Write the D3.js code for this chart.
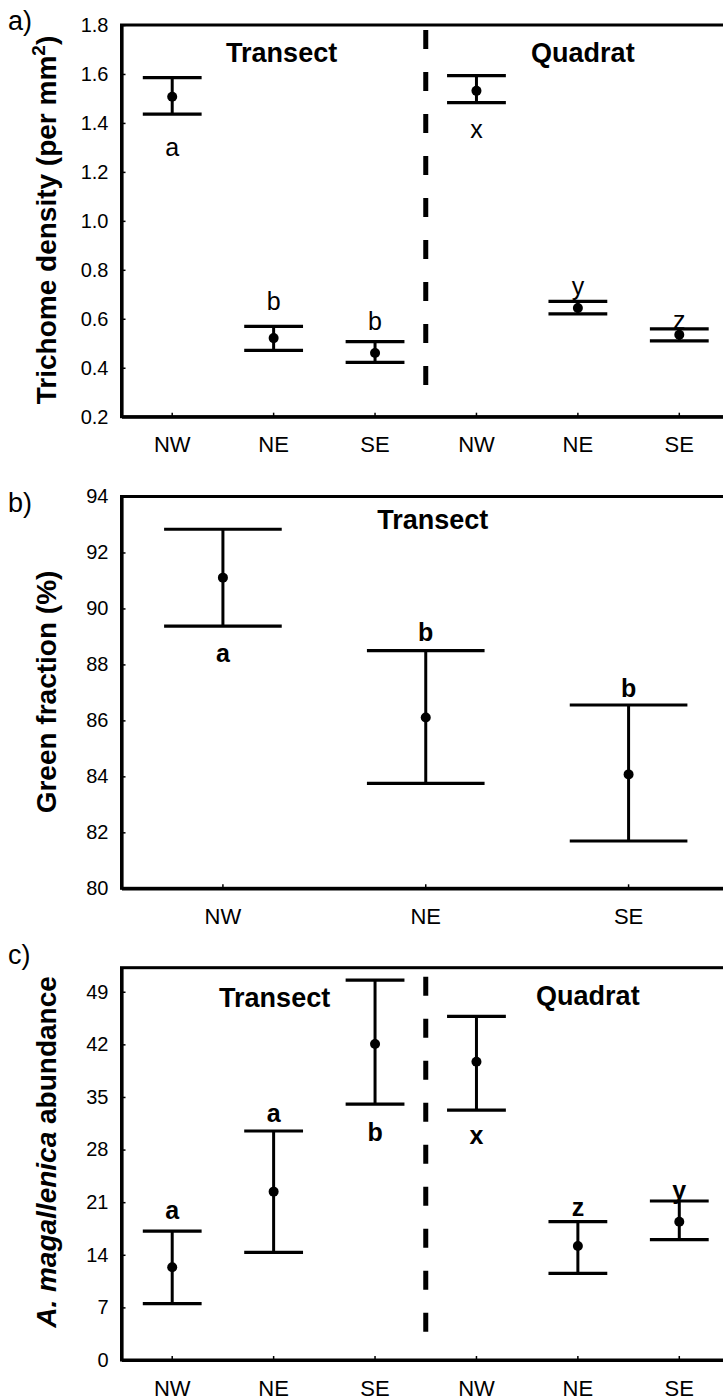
<!DOCTYPE html>
<html>
<head>
<meta charset="utf-8">
<script src="https://cdn.jsdelivr.net/npm/d3@7"></script>
<style>
  body { margin: 0; background: #fff; }
  svg { display: block; font-family: "Liberation Sans", Arial, sans-serif; }
  .axis path, .axis line { stroke: #000; }
  .axis text { fill: #000; }
</style>
</head>
<body>
<div id="chart"></div>
<script>
// sites, same order in every panel
const sites = ["NW", "NE", "SE"];

// a) trichome density, transect (3) then quadrat (3)
const densityTicks = [0.2, 0.4, 0.6, 0.8, 1.0, 1.2, 1.4, 1.6, 1.8];
const densityMean = [1.507, 0.521, 0.460, 1.531, 0.644, 0.535];
const densityLow = [1.436, 0.471, 0.422, 1.483, 0.620, 0.510];
const densityHigh = [1.585, 0.569, 0.507, 1.593, 0.671, 0.559];
const densityLetters = ["a", "b", "b", "x", "y", "z"];
const densityLetterAt = [1.303, 0.671, 0.589, 1.374, 0.735, 0.596];

// b) green fraction, transect only
const greenTicks = [80, 82, 84, 86, 88, 90, 92, 94];
const greenMean = [91.10, 86.10, 84.07];
const greenLow = [89.37, 83.75, 81.69];
const greenHigh = [92.83, 88.49, 86.55];
const greenLetters = ["a", "b", "b"];
const greenLetterAt = [88.39, 89.17, 87.14];

// c) A. magallenica abundance, transect then quadrat
const abundTicks = [0, 7, 14, 21, 28, 35, 42, 49];
const abundMean = [12.33, 22.4, 42.04, 39.69, 15.17, 18.4];
const abundLow = [7.49, 14.33, 34.06, 33.26, 11.53, 16.01];
const abundHigh = [17.16, 30.47, 50.56, 45.73, 18.40, 21.16];
const abundLetters = ["a", "a", "b", "x", "z", "y"];
const abundLetterAt = [19.96, 32.82, 30.38, 29.94, 20.40, 22.62];

const svg = d3.select("#chart").append("svg")
    .attr("width", 723)
    .attr("height", 1400);

const left = 121.5, right = 730;

function drawPanel(p) {
    const n = p.mean.length;
    const x = d3.scaleBand().domain(d3.range(n)).range([left, right]);
    const y = d3.scaleLinear().domain(p.domain).range([p.bottom, p.top]);
    const g = svg.append("g");

    // frame (right edge falls outside the picture)
    g.append("rect")
        .attr("x", left).attr("y", p.top)
        .attr("width", right - left).attr("height", p.bottom - p.top)
        .attr("fill", "none").attr("stroke", "#000").attr("stroke-width", 3);

    g.append("g")
        .attr("class", "axis")
        .attr("transform", `translate(${left},0)`)
        .call(d3.axisLeft(y).tickValues(p.ticks).tickFormat(p.fmt)
            .tickSizeInner(-4).tickSizeOuter(0).tickPadding(13))
        .call(a => a.select(".domain").attr("stroke-width", 3.2))
        .call(a => a.selectAll("line").attr("stroke-width", 1.5))
        .call(a => a.selectAll("text").attr("font-size", 20).attr("font-family", null));

    g.append("g")
        .attr("class", "axis")
        .attr("transform", `translate(0,${p.bottom})`)
        .call(d3.axisBottom(x).tickFormat(i => sites[i % 3])
            .tickSizeInner(-4).tickSizeOuter(0).tickPadding(20))
        .call(a => a.select(".domain").attr("stroke-width", 3.2))
        .call(a => a.selectAll("line").attr("stroke-width", 1.5))
        .call(a => a.selectAll("text").attr("font-size", 22).attr("font-family", null));

    if (n === 6) {
        g.append("line")
            .attr("x1", x(3)).attr("x2", x(3))
            .attr("y1", p.dashTop).attr("y2", p.dashBottom)
            .attr("stroke", "#000").attr("stroke-width", 5)
            .attr("stroke-dasharray", "19,23");
    }

    const half = x.bandwidth() * 0.29;
    const cx = i => x(i) + x.bandwidth() / 2;
    const bars = g.selectAll(".bar").data(d3.range(n)).enter().append("g").attr("class", "bar");
    bars.append("line")
        .attr("x1", cx).attr("x2", cx)
        .attr("y1", i => y(p.low[i])).attr("y2", i => y(p.high[i]))
        .attr("stroke", "#000").attr("stroke-width", 3);
    bars.append("line")
        .attr("x1", i => cx(i) - half).attr("x2", i => cx(i) + half)
        .attr("y1", i => y(p.high[i])).attr("y2", i => y(p.high[i]))
        .attr("stroke", "#000").attr("stroke-width", 3.2);
    bars.append("line")
        .attr("x1", i => cx(i) - half).attr("x2", i => cx(i) + half)
        .attr("y1", i => y(p.low[i])).attr("y2", i => y(p.low[i]))
        .attr("stroke", "#000").attr("stroke-width", 3.2);
    bars.append("circle")
        .attr("cx", cx).attr("cy", i => y(p.mean[i]))
        .attr("r", 5).attr("fill", "#000");
    bars.append("text")
        .attr("x", cx).attr("y", i => y(p.letterAt[i]))
        .attr("text-anchor", "middle").attr("dominant-baseline", "central")
        .attr("font-size", 25).attr("font-weight", p.letterWeight)
        .text(i => p.letters[i]);

    p.groups.forEach(gr => {
        g.append("text")
            .attr("x", cx(gr.at) + gr.dx).attr("y", p.top + gr.dy)
            .attr("text-anchor", "middle")
            .attr("font-size", 27).attr("font-weight", "bold")
            .text(gr.label);
    });

    const title = g.append("text")
        .attr("transform", `translate(56,${p.titleY}) rotate(-90)`)
        .attr("text-anchor", "middle")
        .attr("font-size", 28).attr("font-weight", "bold");
    p.title(title);

    g.append("text")
        .attr("x", 8).attr("y", p.tagY)
        .attr("font-size", 27)
        .text(p.tag);
}

drawPanel({
    top: 25, bottom: 416.7, domain: [0.2, 1.8], ticks: densityTicks, fmt: d3.format(".1f"),
    mean: densityMean, low: densityLow, high: densityHigh,
    letters: densityLetters, letterAt: densityLetterAt, letterWeight: "normal",
    dashTop: 30, dashBottom: 390,
    groups: [{label: "Transect", at: 1, dx: 8, dy: 37}, {label: "Quadrat", at: 4, dx: 5, dy: 37}],
    titleY: 220, tag: "a)", tagY: 30,
    title: t => {
        t.append("tspan").text("Trichome density (per mm");
        t.append("tspan").attr("font-size", 19).attr("dy", -11).text("2");
        t.append("tspan").attr("dy", 11).text(")");
    }
});

drawPanel({
    top: 496.5, bottom: 888.3, domain: [80, 94], ticks: greenTicks, fmt: d3.format("d"),
    mean: greenMean, low: greenLow, high: greenHigh,
    letters: greenLetters, letterAt: greenLetterAt, letterWeight: "bold",
    groups: [{label: "Transect", at: 1, dx: 7, dy: 32}],
    titleY: 692, tag: "b)", tagY: 512,
    title: t => t.text("Green fraction (%)")
});

drawPanel({
    top: 967.7, bottom: 1360, domain: [0, 52.2], ticks: abundTicks, fmt: d3.format("d"),
    mean: abundMean, low: abundLow, high: abundHigh,
    letters: abundLetters, letterAt: abundLetterAt, letterWeight: "bold",
    dashTop: 976.7, dashBottom: 1335,
    groups: [{label: "Transect", at: 1, dx: 1, dy: 39}, {label: "Quadrat", at: 4, dx: 10, dy: 37}],
    titleY: 1152, tag: "c)", tagY: 964,
    title: t => {
        t.append("tspan").attr("font-style", "italic").text("A. magallenica");
        t.append("tspan").text(" abundance");
    }
});
</script>
</body>
</html>
